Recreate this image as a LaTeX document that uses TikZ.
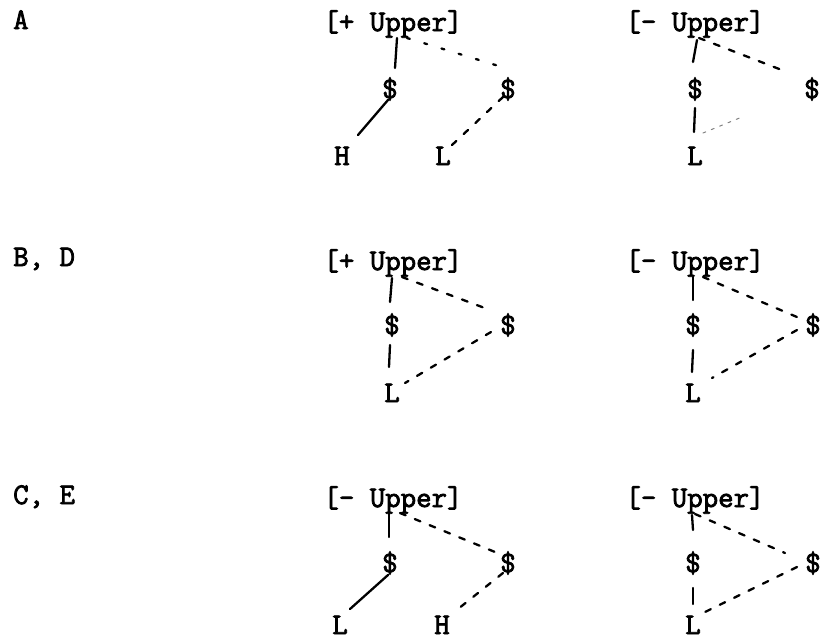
\documentclass[tikz,border=0pt]{standalone}
\usepackage{fontspec}
\newfontfamily\tw[FakeBold=2.5]{Latin Modern Mono}
\begin{document}
\begin{tikzpicture}[x=1pt,y=-1pt,
  txt/.style={inner sep=0pt,anchor=base,font=\tw\fontsize{30}{30}\selectfont},
  lab/.style={inner sep=0pt,anchor=base west,font=\tw\fontsize{30}{30}\selectfont},
  dol/.style={inner sep=0pt,anchor=center,font=\tw\fontsize{30}{30}\selectfont},
  solidln/.style={line width=2.3pt,line cap=round},
  dashln/.style={line width=2.3pt,line cap=round,dash pattern=on 6pt off 10pt},
  dotln/.style={line width=2.3pt,line cap=round,dash pattern=on 3pt off 15pt},
  faintln/.style={line width=1pt,line cap=round,gray,dash pattern=on 3pt off 6pt}]
\useasboundingbox (0,0) rectangle (821,641);
% labels
\node[lab] (labA) at (13,29) {A};
\node[lab] (labBD) at (13,266) {B, D};
\node[lab] (labCE) at (13,504) {C, E};
% ---------- Row A ----------
\node[txt] (UA1) at (393,31) {[+ Upper]};
\node[txt] (UA2) at (695,31) {[- Upper]};
\node[dol] (sA1) at (390,89) {\$};
\node[dol] (sA2) at (508,89) {\$};
\node[dol] (sA3) at (695,89) {\$};
\node[dol] (sA4) at (812,89) {\$};
\node[txt] (hA) at (342,165) {H};
\node[txt] (lA1) at (443,165) {L};
\node[txt] (lA2) at (695,165) {L};
\draw[solidln] ([shift={(4,7)}]UA1.base) -- ([shift={(5,-21)}]sA1.center);
\draw[dotln] ([shift={(14,7)}]UA1.base) -- ([shift={(-6,-22)}]sA2.center);
\draw[solidln] ([shift={(-2,11)}]sA1.center) -- ([shift={(16,-30)}]hA.base);
\draw[dashln] ([shift={(-5,8)}]sA2.center) -- ([shift={(9,-20)}]lA1.base);
\draw[solidln] ([shift={(2,9)}]UA2.base) -- ([shift={(-2,-27)}]sA3.center);
\draw[dashln] ([shift={(4,7)}]UA2.base) -- ([shift={(-25,-17)}]sA4.center);
\draw[solidln] ([shift={(0,19)}]sA3.center) -- ([shift={(-1,-33)}]lA2.base);
\draw[faintln] ([shift={(8,-32)}]lA2.base) -- ([shift={(-70,28)}]sA4.center);
% ---------- Row B ----------
\node[txt] (UB1) at (393,270) {[+ Upper]};
\node[txt] (UB2) at (695,270) {[- Upper]};
\node[dol] (sB1) at (392,325) {\$};
\node[dol] (sB2) at (508,325) {\$};
\node[dol] (sB3) at (693,325) {\$};
\node[dol] (sB4) at (813,325) {\$};
\node[txt] (lB1) at (392,402) {L};
\node[txt] (lB2) at (693,402) {L};
\draw[solidln] ([shift={(-1,8)}]UB1.base) -- ([shift={(-2,-23)}]sB1.center);
\draw[dashln] ([shift={(9,7)}]UB1.base) -- ([shift={(-18,-15)}]sB2.center);
\draw[dashln] ([shift={(-17,7)}]sB2.center) -- ([shift={(13,-19)}]lB1.base);
\draw[solidln] ([shift={(-2,20)}]sB1.center) -- ([shift={(-3,-35)}]lB1.base);
\draw[solidln] ([shift={(-2,7)}]UB2.base) -- ([shift={(0,-25)}]sB3.center);
\draw[dashln] ([shift={(8,7)}]UB2.base) -- ([shift={(-16,-8)}]sB4.center);
\draw[dashln] ([shift={(-16,5)}]sB4.center) -- ([shift={(19,-24)}]lB2.base);
\draw[solidln] ([shift={(0,25)}]sB3.center) -- ([shift={(-1,-30)}]lB2.base);
% ---------- Row C ----------
\node[txt] (UC1) at (393,507) {[- Upper]};
\node[txt] (UC2) at (695,507) {[- Upper]};
\node[dol] (sC1) at (390,563) {\$};
\node[dol] (sC2) at (508,563) {\$};
\node[dol] (sC3) at (693,563) {\$};
\node[dol] (sC4) at (813,563) {\$};
\node[txt] (lC1) at (340,634) {L};
\node[txt] (hC) at (442,634) {H};
\node[txt] (lC2) at (693,634) {L};
\draw[solidln] ([shift={(-4,5)}]UC1.base) -- ([shift={(-1,-26)}]sC1.center);
\draw[dashln] ([shift={(7,6)}]UC1.base) -- ([shift={(-13,-11)}]sC2.center);
\draw[solidln] ([shift={(-2,12)}]sC1.center) -- ([shift={(10,-25)}]lC1.base);
\draw[dashln] ([shift={(-5,10)}]sC2.center) -- ([shift={(16,-25)}]hC.base);
\draw[solidln] ([shift={(-3,8)}]UC2.base) -- ([shift={(0,-33)}]sC3.center);
\draw[dashln] ([shift={(0,7)}]UC2.base) -- ([shift={(-28,-10)}]sC4.center);
\draw[dashln] ([shift={(-16,4)}]sC4.center) -- ([shift={(12,-22)}]lC2.base);
\draw[solidln] ([shift={(0,25)}]sC3.center) -- ([shift={(0,-30)}]lC2.base);
\end{tikzpicture}
\end{document}
